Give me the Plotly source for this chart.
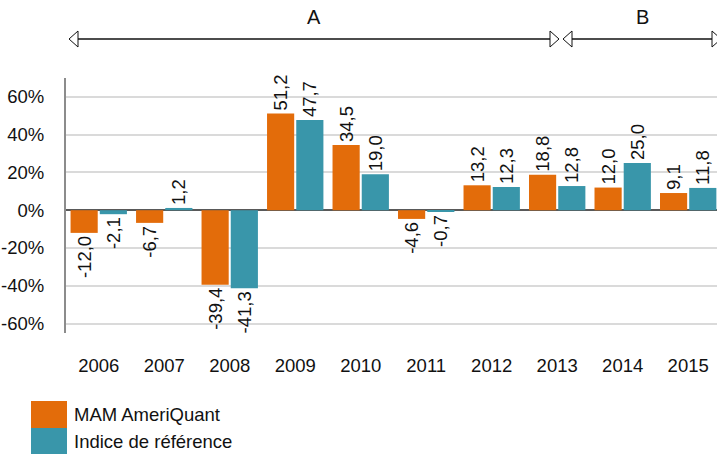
import plotly.graph_objects as go

years = ["2006", "2007", "2008", "2009", "2010", "2011", "2012", "2013", "2014", "2015"]
mam = [-12.0, -6.7, -39.4, 51.2, 34.5, -4.6, 13.2, 18.8, 12.0, 9.1]
indice = [-2.1, 1.2, -41.3, 47.7, 19.0, -0.7, 12.3, 12.8, 25.0, 11.8]
series_names = ["MAM AmeriQuant", "Indice de référence"]
y_ticks = [-60, -40, -20, 0, 20, 40, 60]
y_tick_labels = [f"{v}%" for v in y_ticks]
period_labels = ["A", "B"]

ORANGE = "#E36C0A"
TEAL = "#3996AA"
FONT = "Liberation Sans, Arial, sans-serif"

W, H = 717, 454
L, R, T, B = 66, 0, 78, 121
PW = W - L - R
PH = H - T - B


def px(x):
    return (x - L) / PW


def py(y):
    return (H - B - y) / PH


def fmt(v):
    return f"{v:.1f}".replace(".", ",")


fig = go.Figure()
for name, vals, col in [(series_names[0], mam, ORANGE), (series_names[1], indice, TEAL)]:
    fig.add_trace(go.Bar(
        x=list(range(len(years))), y=vals, name=name, marker_color=col,
        marker_line_width=0,
        text=[fmt(v) for v in vals], textposition="outside", textangle=-90,
        constraintext="none",
        textfont=dict(size=18.5, color="#111", family=FONT),
        cliponaxis=False, showlegend=False,
    ))

shapes = []
annotations = []

# period arrows
line_y = 39
arrows = [(69, 559, period_labels[0]), (563, 721, period_labels[1])]
for x0, x1, lab in arrows:
    shapes.append(dict(type="line", xref="paper", yref="paper",
                       x0=px(x0 + 8), x1=px(x1 - 8), y0=py(line_y), y1=py(line_y),
                       line=dict(color="#111", width=1.3)))
    shapes.append(dict(type="path", xref="paper", yref="paper",
                       path=f"M {px(x0)} {py(line_y)} L {px(x0 + 9)} {py(line_y - 8)} L {px(x0 + 9)} {py(line_y + 8)} Z",
                       fillcolor="white", line=dict(color="#111", width=1)))
    shapes.append(dict(type="path", xref="paper", yref="paper",
                       path=f"M {px(x1)} {py(line_y)} L {px(x1 - 9)} {py(line_y - 8)} L {px(x1 - 9)} {py(line_y + 8)} Z",
                       fillcolor="white", line=dict(color="#111", width=1)))
    annotations.append(dict(text=lab, xref="paper", yref="paper",
                            x=px((x0 + x1) / 2), y=py(17), showarrow=False,
                            xanchor="center", yanchor="middle",
                            font=dict(size=20, color="#111", family=FONT)))

# custom legend
leg = [(series_names[0], ORANGE, 401, 428), (series_names[1], TEAL, 428, 455)]
for name, col, y0, y1 in leg:
    shapes.append(dict(type="rect", xref="paper", yref="paper",
                       x0=px(31), x1=px(67), y0=py(y1), y1=py(y0),
                       fillcolor=col, line=dict(width=0)))
    annotations.append(dict(text=name, xref="paper", yref="paper",
                            x=px(72), y=py((y0 + y1) / 2), showarrow=False,
                            xanchor="left", yanchor="middle",
                            font=dict(size=18.5, color="#111", family=FONT)))

fig.update_layout(
    width=W, height=H,
    margin=dict(l=L, r=R, t=T, b=B, pad=0),
    paper_bgcolor="white", plot_bgcolor="white",
    barmode="group", bargap=0.108, bargroupgap=0.07,
    font=dict(family=FONT, size=18, color="#111"),
    shapes=shapes, annotations=annotations,
    xaxis=dict(
        tickvals=list(range(len(years))), ticktext=years,
        range=[-0.5, 9.44], showgrid=False, showline=False, zeroline=False,
        ticks="", ticklabelstandoff=19,
        tickfont=dict(size=18.5, family=FONT, color="#111"),
    ),
    yaxis=dict(
        range=[-65, 70], tickvals=y_ticks, ticktext=y_tick_labels,
        showgrid=True, gridcolor="#DADADA", gridwidth=1.5,
        zeroline=True, zerolinecolor="#595959", zerolinewidth=1.5,
        showline=True, linecolor="#8C8C8C", linewidth=2,
        ticks="", ticklabelstandoff=16,
        tickfont=dict(size=18.5, family=FONT, color="#111"),
    ),
)

fig.write_html(
    "out.html",
    config={"displayModeBar": False},
    post_script="document.body.style.margin='0';document.body.style.overflow='hidden';",
)
